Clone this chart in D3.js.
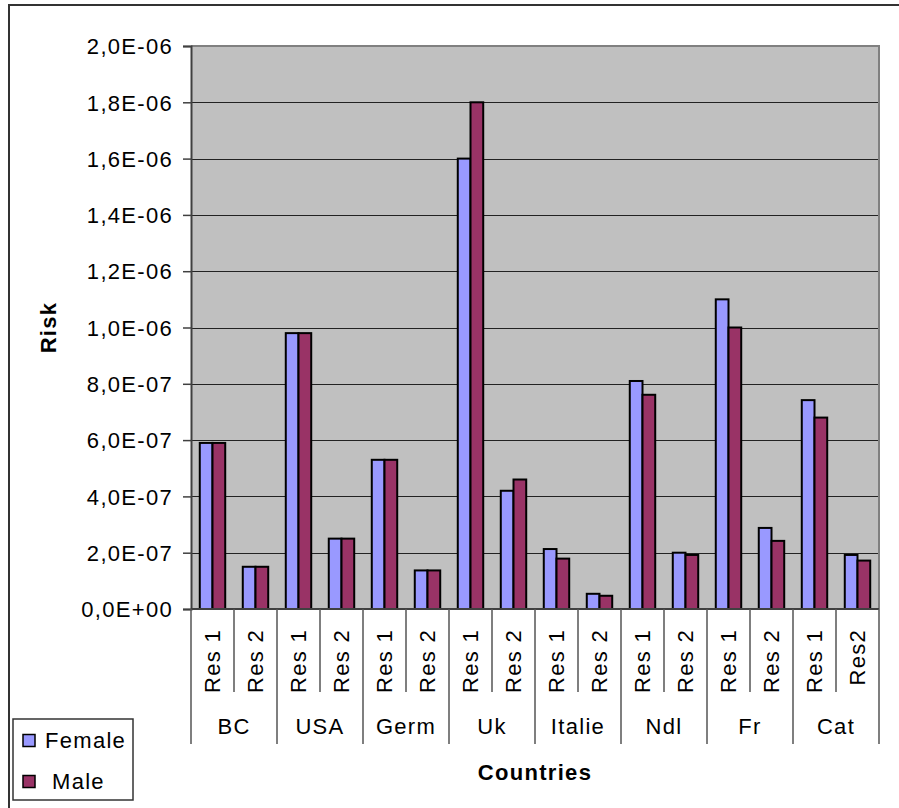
<!DOCTYPE html>
<html>
<head>
<meta charset="utf-8">
<script src="https://cdn.jsdelivr.net/npm/d3@7"></script>
<style>
  html, body { margin: 0; padding: 0; background: #fff; }
  svg { display: block; }
  text { font-family: "Liberation Sans", Arial, sans-serif; fill: #000; }
</style>
</head>
<body>
<svg id="chart" width="899" height="808"></svg>
<script>
// Risk per country and result set, split by sex
const countries = ["BC", "USA", "Germ", "Uk", "Italie", "Ndl", "Fr", "Cat"];
const resLabels = ["Res 1", "Res 2", "Res 1", "Res 2", "Res 1", "Res 2", "Res 1", "Res 2",
                   "Res 1", "Res 2", "Res 1", "Res 2", "Res 1", "Res 2", "Res 1", "Res2"];
const female = [5.9e-7, 1.5e-7, 9.8e-7, 2.5e-7, 5.3e-7, 1.37e-7, 1.6e-6, 4.2e-7,
                2.13e-7, 5.4e-8, 8.1e-7, 2.0e-7, 1.1e-6, 2.88e-7, 7.42e-7, 1.92e-7];
const male   = [5.9e-7, 1.5e-7, 9.8e-7, 2.5e-7, 5.3e-7, 1.37e-7, 1.8e-6, 4.6e-7,
                1.79e-7, 4.7e-8, 7.61e-7, 1.92e-7, 1.0e-6, 2.42e-7, 6.8e-7, 1.72e-7];
const seriesNames = ["Female", "Male"];
const seriesColors = ["#9999FF", "#993366"];
const yTickValues = [0, 2e-7, 4e-7, 6e-7, 8e-7, 1e-6, 1.2e-6, 1.4e-6, 1.6e-6, 1.8e-6, 2e-6];

// Excel-style scientific labels: 2,0E-06
function sci(v) {
  if (v === 0) return "0,0E+00";
  const [m, e] = v.toExponential(1).split("e");
  const n = +e;
  return m.replace(".", ",") + "E" + (n < 0 ? "-" : "+") + String(Math.abs(n)).padStart(2, "0");
}

const svg = d3.select("#chart");
const plotLeft = 191, plotRight = 879, plotTop = 46, plotBottom = 609;
const LS = "1.3px";

// outer chart frame
svg.append("rect").attr("x", 9).attr("y", 5).attr("width", 920).attr("height", 840)
  .attr("fill", "#fff").attr("stroke", "#333").attr("stroke-width", 2);

const slotKeys = d3.range(female.length);
const x = d3.scaleBand().domain(slotKeys).range([plotLeft, plotRight]).padding(0);
const xs = d3.scaleBand().domain(seriesNames).range([0, x.bandwidth()])
  .paddingInner(0).paddingOuter(0.69);
const y = d3.scaleLinear().domain([0, 2e-6]).range([plotBottom, plotTop]);

// plot background
svg.append("rect").attr("x", plotLeft).attr("y", plotTop)
  .attr("width", plotRight - plotLeft).attr("height", plotBottom - plotTop).attr("fill", "#C0C0C0");

// gridlines
svg.append("g")
  .selectAll("line")
  .data(yTickValues.filter(v => v > 0 && v < 2e-6))
  .join("line")
  .attr("x1", plotLeft).attr("x2", plotRight)
  .attr("y1", d => Math.round(y(d)) + 0.5).attr("y2", d => Math.round(y(d)) + 0.5)
  .attr("stroke", "#222").attr("stroke-width", 1);

// plot border (top / right)
svg.append("path")
  .attr("d", `M${plotLeft},${plotTop}H${plotRight}V${plotBottom}`)
  .attr("fill", "none").attr("stroke", "#808080").attr("stroke-width", 2);

// bars
const rows = slotKeys.map(i => ({ i, values: [female[i], male[i]] }));
const groups = svg.append("g").selectAll("g").data(rows).join("g")
  .attr("transform", d => `translate(${x(d.i)},0)`);
groups.selectAll("rect")
  .data(d => d.values.map((v, k) => ({ k, v })))
  .join("rect")
  .attr("x", d => xs(seriesNames[d.k]))
  .attr("width", xs.bandwidth())
  .attr("y", d => y(d.v))
  .attr("height", d => plotBottom - y(d.v))
  .attr("fill", d => seriesColors[d.k])
  .attr("stroke", "#000").attr("stroke-width", 2);

// y axis
const yAxis = svg.append("g").attr("transform", `translate(${plotLeft},0)`)
  .call(d3.axisLeft(y).tickValues(yTickValues).tickFormat(sci).tickSize(8).tickPadding(10));
yAxis.select(".domain").attr("stroke", "#404040").attr("stroke-width", 2);
yAxis.selectAll(".tick line").attr("stroke", "#404040").attr("stroke-width", 1.5);
yAxis.selectAll(".tick text")
  .attr("font-size", 22).attr("letter-spacing", LS)
  .attr("font-family", "Liberation Sans, Arial, sans-serif").attr("fill", "#000")
  .attr("dy", "0.35em");

// x axis baseline
svg.append("line").attr("x1", plotLeft).attr("x2", plotRight)
  .attr("y1", plotBottom).attr("y2", plotBottom).attr("stroke", "#404040").attr("stroke-width", 2);

// category separators: short between result sets, long between countries
const bounds = d3.range(female.length + 1);
svg.append("g").selectAll("line").data(bounds).join("line")
  .attr("x1", i => (i < female.length ? x(i) : plotRight))
  .attr("x2", i => (i < female.length ? x(i) : plotRight))
  .attr("y1", plotBottom)
  .attr("y2", i => (i % 2 === 0 ? 744 : 692))
  .attr("stroke", "#555").attr("stroke-width", 1.5);

// result-set labels (rotated)
svg.append("g").selectAll("text").data(slotKeys).join("text")
  .attr("transform", i => `translate(${x(i) + x.bandwidth() / 2},629) rotate(-90)`)
  .attr("text-anchor", "end").attr("dy", "0.35em")
  .attr("font-size", 22).attr("letter-spacing", LS)
  .text(i => resLabels[i]);

// country labels
svg.append("g").selectAll("text").data(countries).join("text")
  .attr("x", (c, g) => x(2 * g) + x.bandwidth())
  .attr("y", 726).attr("dy", "0.35em")
  .attr("text-anchor", "middle")
  .attr("font-size", 22).attr("letter-spacing", LS)
  .text(c => c);

// axis titles
svg.append("text").attr("x", (plotLeft + plotRight) / 2).attr("y", 772).attr("dy", "0.35em")
  .attr("text-anchor", "middle").attr("font-size", 22).attr("font-weight", "bold")
  .attr("letter-spacing", LS).text("Countries");
svg.append("text").attr("transform", `translate(48,${(plotTop + plotBottom) / 2}) rotate(-90)`)
  .attr("text-anchor", "middle").attr("dy", "0.35em").attr("font-size", 22)
  .attr("font-weight", "bold").attr("letter-spacing", LS).text("Risk");

// legend
const legend = svg.append("g");
legend.append("rect").attr("x", 13).attr("y", 719).attr("width", 120).attr("height", 81)
  .attr("fill", "#fff").attr("stroke", "#333").attr("stroke-width", 1.5);
const legendY = [741, 782];
const legendTextX = [45, 52];
seriesNames.forEach((name, k) => {
  legend.append("rect").attr("x", 23).attr("y", legendY[k] - 6.5)
    .attr("width", 12).attr("height", 12)
    .attr("fill", seriesColors[k]).attr("stroke", "#000").attr("stroke-width", 1.5);
  legend.append("text").attr("x", legendTextX[k]).attr("y", legendY[k] - 1).attr("dy", "0.35em")
    .attr("font-size", 22).attr("letter-spacing", LS).text(name);
});
</script>
</body>
</html>
